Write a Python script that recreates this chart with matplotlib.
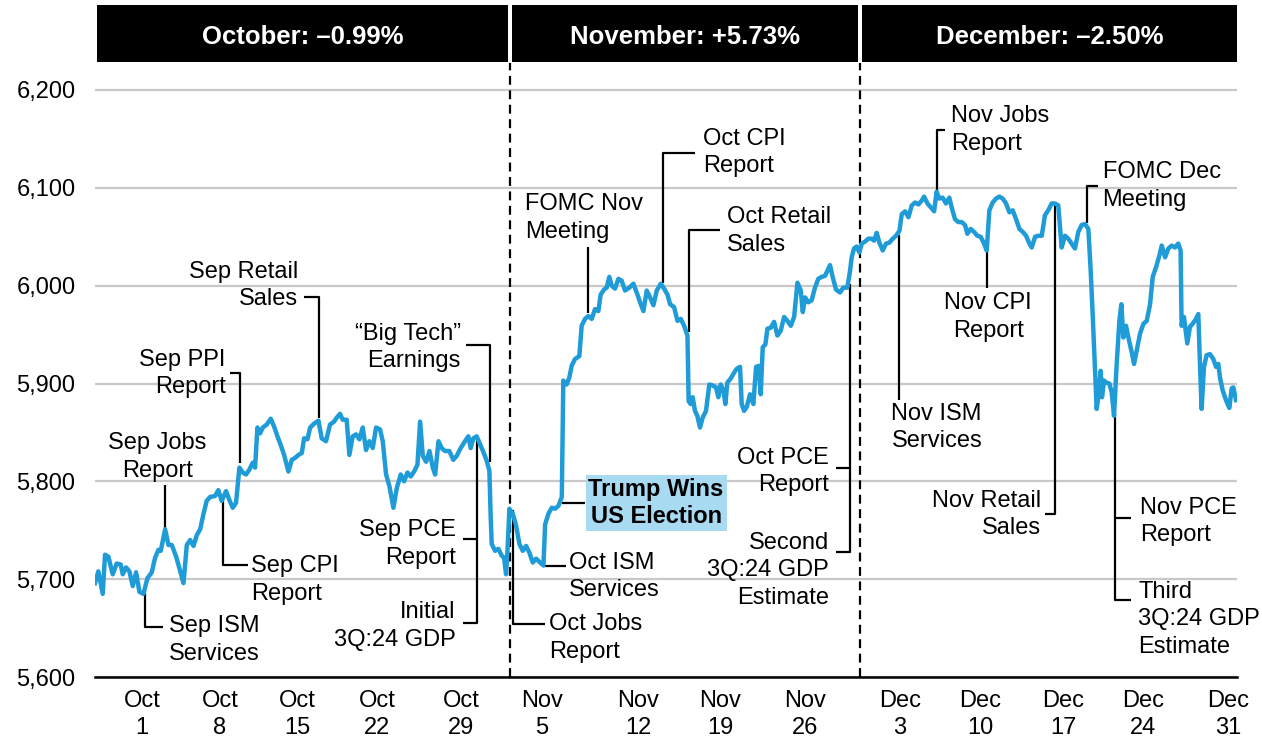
import matplotlib
matplotlib.use("Agg")
import matplotlib.pyplot as plt
from matplotlib.patches import Rectangle
from matplotlib.transforms import blended_transform_factory

plt.rcParams["font.family"] = ["Liberation Sans", "DejaVu Sans"]
plt.rcParams["font.size"] = 17

# position along the time axis (Oct 1 = 0, Dec 31 ~ 65), S&P 500 level
oct_days = [-2.82, -2.62, -2.36, -2.22, -2.02, -1.76, -1.52, -1.28, -1.16, -0.96, -0.76, -0.56,
            -0.36, -0.16, 0.08, 0.32, 0.58, 0.78, 0.98, 1.12, 1.38, 1.58, 1.78, 2.04, 2.24, 2.48,
            2.68, 2.88, 3.08, 3.28, 3.48, 3.67, 3.87, 4.07, 4.37, 4.57, 4.77, 5.03, 5.23, 5.43,
            5.63, 5.83, 6.03, 6.23, 6.43, 6.63, 6.77, 6.91, 7.07, 7.23, 7.47, 7.71, 7.91, 8.11,
            8.31, 8.51, 8.77, 8.97, 9.17, 9.37, 9.57, 9.71, 9.91, 10.07, 10.31, 10.57, 10.76,
            11.02, 11.26, 11.50, 11.66, 11.86, 12.02, 12.26, 12.42, 12.62, 12.82, 13.02, 13.22,
            13.42, 13.62, 13.82, 14.02, 14.26, 14.42, 14.62, 14.82, 15.06, 15.26, 15.50, 15.70,
            15.90, 16.10, 16.30, 16.50, 16.66, 16.82, 17.02, 17.22, 17.42, 17.56, 17.76, 17.95,
            18.15, 18.41, 18.65, 18.85, 19.09, 19.35, 19.55, 19.69, 19.85, 20.05]
oct_level = [5696, 5708, 5685, 5725, 5723, 5705, 5716, 5715, 5705, 5712, 5708, 5693,
             5707, 5687, 5685, 5701, 5707, 5722, 5730, 5729, 5751, 5735, 5735, 5723, 5711, 5696,
             5735, 5740, 5734, 5745, 5751, 5766, 5780, 5784, 5785, 5791, 5780, 5790, 5781, 5773,
             5778, 5814, 5809, 5807, 5812, 5819, 5814, 5855, 5849, 5855, 5858, 5864, 5856, 5846,
             5837, 5827, 5810, 5822, 5824, 5827, 5829, 5844, 5843, 5855, 5859, 5862, 5844,
             5841, 5858, 5861, 5865, 5869, 5863, 5863, 5827, 5846, 5848, 5843, 5855,
             5832, 5841, 5834, 5855, 5853, 5841, 5807, 5795, 5773, 5793, 5807, 5800,
             5809, 5805, 5810, 5817, 5861, 5826, 5820, 5831, 5814, 5807, 5841, 5834,
             5831, 5831, 5822, 5826, 5834, 5841, 5846, 5834, 5844, 5846]

nov_days = [20.25, 20.45, 20.65, 20.81, 20.89, 20.95, 21.15, 21.35, 21.55, 21.69, 21.81, 21.89,
            22.01, 22.21, 22.41, 22.61, 22.81, 23.01, 23.21, 23.41, 23.61, 23.85, 24.05, 24.15,
            24.35, 24.55, 24.75, 24.95, 25.15, 25.24, 25.44, 25.60, 25.74, 25.94, 26.20, 26.34,
            26.54, 26.74, 26.94, 27.14, 27.34, 27.48, 27.68, 27.84, 28.00, 28.14, 28.34, 28.54,
            28.74, 28.94, 29.20, 29.44, 29.68, 29.84, 30.04, 30.24, 30.44, 30.64, 30.84, 31.08,
            31.24, 31.48, 31.64, 31.88, 32.08, 32.28, 32.48, 32.68, 32.75, 32.87, 32.99, 33.13,
            33.27, 33.43, 33.59, 33.79, 33.99, 34.19, 34.39, 34.53, 34.67, 34.83, 34.95, 35.07,
            35.27, 35.47, 35.63, 35.83, 35.93, 36.07, 36.23, 36.43, 36.63, 36.79, 36.95, 37.07,
            37.19, 37.35, 37.47, 37.67, 37.87, 38.07, 38.27, 38.47, 38.67, 38.87, 39.07, 39.27,
            39.47, 39.59, 39.73, 39.92, 40.12, 40.32, 40.52, 40.72, 40.92, 41.06, 41.22, 41.38,
            41.58, 41.82, 42.02, 42.26, 42.42]
nov_level = [5838, 5830, 5821, 5811, 5763, 5736, 5729, 5731, 5724, 5722, 5705, 5727,
             5772, 5767, 5755, 5736, 5729, 5734, 5727, 5717, 5721, 5717, 5714, 5756,
             5767, 5773, 5772, 5775, 5784, 5903, 5899, 5906, 5918, 5925, 5928, 5959,
             5966, 5969, 5966, 5976, 5974, 5991, 5996, 5998, 6009, 6000, 5997, 6007,
             6005, 5995, 5998, 6002, 5991, 5983, 5974, 5995, 5988, 5980, 5995, 6002,
             5998, 5991, 5981, 5978, 5964, 5966, 5959, 5949, 5882, 5879, 5886, 5872,
             5867, 5855, 5865, 5872, 5899, 5898, 5896, 5886, 5899, 5893, 5879, 5901,
             5905, 5911, 5915, 5917, 5879, 5872, 5876, 5889, 5879, 5917, 5918, 5889,
             5937, 5940, 5956, 5957, 5963, 5949, 5954, 5968, 5964, 5959, 5968, 6003,
             5995, 5973, 5988, 5983, 5985, 5998, 6007, 6009, 6010, 6015, 6021, 6009,
             5996, 5993, 5998, 5998, 6015]

dec_days = [42.52, 42.66, 42.82, 42.98, 43.12, 43.32, 43.52, 43.72, 43.86, 44.02, 44.18, 44.38,
            44.58, 44.78, 44.98, 45.18, 45.38, 45.52, 45.72, 45.92, 46.12, 46.32, 46.52, 46.72,
            46.86, 47.06, 47.26, 47.46, 47.61, 47.77, 47.97, 48.17, 48.37, 48.51, 48.71, 48.91,
            49.11, 49.31, 49.45, 49.65, 49.85, 50.05, 50.25, 50.45, 50.61, 50.77, 50.97, 51.17,
            51.37, 51.57, 51.77, 51.97, 52.17, 52.37, 52.57, 52.77, 52.97, 53.17, 53.31, 53.51,
            53.71, 53.91, 54.10, 54.30, 54.50, 54.70, 54.90, 55.10, 55.30, 55.50, 55.70, 55.90,
            56.10, 56.30, 56.50, 56.70, 56.84, 56.96, 57.10, 57.20, 57.30, 57.44, 57.52, 57.64,
            57.76, 57.96, 58.10, 58.24, 58.40, 58.56, 58.68, 58.80, 58.96, 59.10, 59.30, 59.44,
            59.60, 59.80, 60.00, 60.20, 60.40, 60.56, 60.76, 60.96, 61.10, 61.30, 61.50, 61.70,
            61.89, 62.09, 62.23, 62.29, 62.43, 62.63, 62.79, 62.95, 63.15, 63.29, 63.39, 63.49,
            63.63, 63.79, 63.99, 64.19, 64.35, 64.49, 64.59, 64.75, 64.95, 65.15, 65.29, 65.39,
            65.55]
dec_level = [6029, 6038, 6040, 6034, 6043, 6045, 6048, 6048, 6046, 6054, 6044, 6036,
             6043, 6044, 6048, 6051, 6056, 6073, 6076, 6070, 6082, 6085, 6083, 6087,
             6091, 6084, 6080, 6076, 6096, 6089, 6090, 6084, 6090, 6080, 6068, 6065,
             6065, 6062, 6053, 6058, 6055, 6051, 6050, 6043, 6036, 6077, 6085, 6089,
             6091, 6089, 6084, 6075, 6077, 6068, 6058, 6055, 6051, 6043, 6039, 6050,
             6051, 6051, 6072, 6077, 6084, 6084, 6082, 6039, 6051, 6048, 6043, 6038,
             6055, 6062, 6063, 6058, 6016, 5971, 5913, 5874, 5886, 5913, 5886, 5903,
             5901, 5900, 5891, 5867, 5920, 5964, 5981, 5947, 5959, 5947, 5932, 5920,
             5934, 5951, 5961, 5964, 5981, 6009, 6019, 6031, 6041, 6029, 6038, 6041,
             6039, 6043, 6036, 5959, 5968, 5941, 5958, 5961, 5966, 5971, 5920, 5874,
             5917, 5929, 5930, 5925, 5917, 5920, 5906, 5893, 5883, 5875, 5895, 5896,
             5883]

tick_days = [0, 4.67, 9.29, 14.08, 19.11, 23.97, 29.72, 34.63, 39.72, 45.42, 50.21, 55.18,
             59.98, 65.06]
tick_labels = ["Oct\n1", "Oct\n8", "Oct\n15", "Oct\n22", "Oct\n29", "Nov\n5", "Nov\n12",
               "Nov\n19", "Nov\n26", "Dec\n3", "Dec\n10", "Dec\n17", "Dec\n24", "Dec\n31"]
y_ticks = [5600, 5700, 5800, 5900, 6000, 6100, 6200]

month_titles = ["October: \u20130.99%", "November: +5.73%", "December: \u20132.50%"]
month_edges = [-2.72, 22.05, 43.02, 65.61]

# (label, x, y, horizontal alignment)
event_labels = [
    ("Sep Jobs\nReport", 0.9, 5825, "center"),
    ("Sep ISM\nServices", 1.62, 5638, "left"),
    ("Sep CPI\nReport", 6.55, 5699, "left"),
    ("Sep PPI\nReport", 5.0, 5910, "right"),
    ("Sep Retail\nSales", 9.35, 6000, "right"),
    ("\u201cBig Tech\u201d\nEarnings", 19.1, 5937, "right"),
    ("Sep PCE\nReport", 18.8, 5736, "right"),
    ("Initial\n3Q:24 GDP", 18.8, 5652, "right"),
    ("Oct Jobs\nReport", 24.4, 5640, "left"),
    ("Oct ISM\nServices", 25.6, 5703, "left"),
    ("FOMC Nov\nMeeting", 22.95, 6069, "left"),
    ("Oct CPI\nReport", 33.6, 6136, "left"),
    ("Oct Retail\nSales", 35.05, 6056, "left"),
    ("Oct PCE\nReport", 41.15, 5810, "right"),
    ("Second\n3Q:24 GDP\nEstimate", 41.15, 5709, "right"),
    ("Nov ISM\nServices", 44.9, 5855, "left"),
    ("Nov Jobs\nReport", 48.5, 6159, "left"),
    ("Nov CPI\nReport", 50.7, 5968, "center"),
    ("Nov Retail\nSales", 53.85, 5766, "right"),
    ("FOMC Dec\nMeeting", 57.55, 6102, "left"),
    ("Nov PCE\nReport", 59.8, 5759, "left"),
    ("Third\n3Q:24 GDP\nEstimate", 59.7, 5659, "left"),
]

# leader lines, each a path of (x, y) points
leaders = [
    [(1.38, 5796), (1.38, 5752)],
    [(0.18, 5686), (0.18, 5651), (1.26, 5651)],
    [(4.85, 5781), (4.85, 5715), (6.35, 5715)],
    [(5.27, 5911), (5.87, 5911), (5.87, 5819)],
    [(9.71, 5988), (10.6, 5988), (10.6, 5865)],
    [(19.41, 5939), (20.85, 5939), (20.85, 5820)],
    [(19.23, 5741), (20.07, 5741)],
    [(19.23, 5655), (20.07, 5655), (20.07, 5842)],
    [(22.23, 5771), (22.23, 5654), (24.15, 5654)],
    [(24.03, 5713), (25.4, 5713)],
    [(25.16, 5778), (26.54, 5778)],
    [(26.72, 6040), (26.72, 5972)],
    [(33.13, 6136), (31.22, 6136), (31.22, 6003)],
    [(34.63, 6057), (32.77, 6057), (32.77, 5953)],
    [(41.58, 5814), (42.42, 5814)],
    [(41.58, 5728), (42.42, 5728), (42.42, 6002)],
    [(45.36, 6052), (45.36, 5883)],
    [(48.11, 6159), (47.63, 6159), (47.63, 6096)],
    [(50.63, 6036), (50.63, 5998)],
    [(54.1, 5767), (54.7, 5767), (54.7, 6082)],
    [(57.28, 6102), (56.62, 6102), (56.62, 6064)],
    [(59.26, 5763), (58.3, 5763)],
    [(59.26, 5679), (58.3, 5679), (58.3, 5868)],
]

fig = plt.figure(figsize=(12.62, 7.40), dpi=100)
ax = fig.add_axes([0.0753, 0.0851, 0.9049, 0.8298])

ax.set_xlim(-2.82, 65.61)
ax.set_ylim(5600, 6227.6)
ax.set_yticks(y_ticks)
ax.set_yticklabels([f"{v:,}" for v in y_ticks])
ax.set_xticks(tick_days)
ax.set_xticklabels(tick_labels)
for lbl in ax.get_xticklabels():
    lbl.set_linespacing(1.32)
ax.yaxis.grid(True, color="#c8c8c8", lw=1.6)
ax.set_axisbelow(True)
ax.tick_params(axis="both", length=0)
ax.tick_params(axis="y", pad=14)
ax.tick_params(axis="x", pad=9)
for s in ["left", "right", "top"]:
    ax.spines[s].set_visible(False)
ax.spines["bottom"].set_color("black")
ax.spines["bottom"].set_linewidth(1.8)

for x in month_edges[1:3]:
    ax.axvline(x, color="black", lw=1.6, dashes=(4, 2.5), zorder=2)

ax.plot(oct_days + nov_days + dec_days, oct_level + nov_level + dec_level,
        color="#1f9bd7", lw=3.2, solid_joinstyle="round", zorder=4)

for path in leaders:
    xs = [p[0] for p in path]
    ys = [p[1] for p in path]
    ax.plot(xs, ys, color="black", lw=1.6, zorder=3, solid_capstyle="butt")

for txt, x, y, ha in event_labels:
    ax.text(x, y, txt, ha=ha, va="center", color="black", zorder=5, linespacing=1.32)

ax.text(30.8, 5778, "Trump Wins\nUS Election", ha="center", va="center",
        fontweight="bold", color="black", zorder=5, linespacing=1.25,
        bbox=dict(boxstyle="square,pad=0.12", fc="#a8daf2", ec="none"))

# header boxes with monthly returns
trans = blended_transform_factory(ax.transData, fig.transFigure)
for i, title in enumerate(month_titles):
    x0 = month_edges[i] + (0.1 if i > 0 else 0)
    x1 = month_edges[i + 1] - (0.1 if i < 2 else 0)
    ax.add_patch(Rectangle((x0, 0.9162), x1 - x0, 0.0770, transform=trans,
                           facecolor="black", edgecolor="none", clip_on=False))
    ax.text((x0 + x1) / 2, 0.950, title, transform=trans, ha="center", va="center",
            color="white", fontweight="bold", fontsize=18.5)

fig.savefig("out.png", dpi=100)
